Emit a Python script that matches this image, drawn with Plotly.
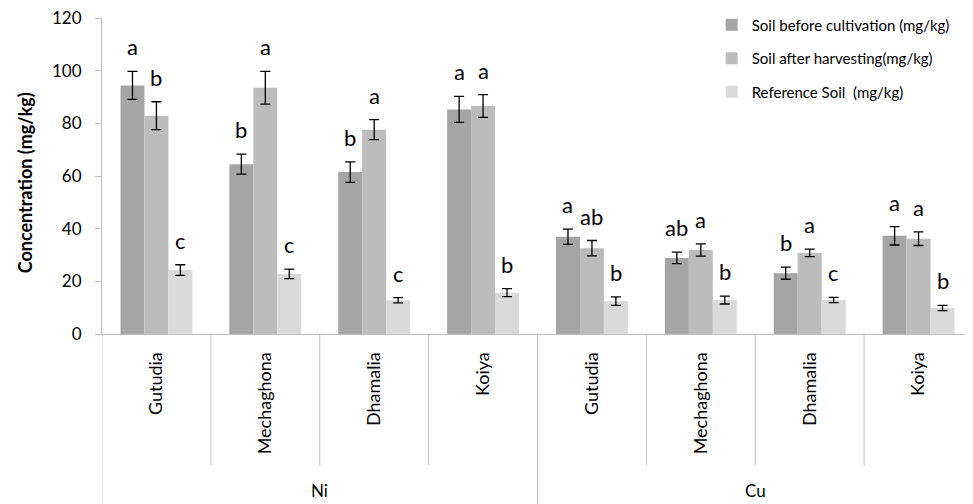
import plotly.graph_objects as go

# ---- data ----
groups = ["Ni", "Cu"]
sites = ["Gutudia", "Mechaghona", "Dhamalia", "Koiya"] * 2
series_names = ["Soil before cultivation (mg/kg)",
                "Soil after harvesting(mg/kg)",
                "Reference Soil  (mg/kg)"]
before = [94.4, 64.5, 61.5, 85.3, 36.9, 28.9, 23.1, 37.3]
before_err = [5.3, 3.8, 3.9, 4.9, 2.9, 2.2, 2.3, 3.5]
after = [82.9, 93.5, 77.6, 86.6, 32.6, 31.9, 30.8, 36.2]
after_err = [5.3, 6.2, 3.8, 4.3, 2.9, 2.3, 1.4, 2.6]
reference = [24.3, 22.8, 12.8, 15.7, 12.5, 12.9, 12.9, 9.9]
reference_err = [2.0, 1.8, 1.0, 1.5, 1.6, 1.5, 1.0, 1.0]
letters_before = ["a", "b", "b", "a", "a", "ab", "b", "a"]
letters_after = ["b", "a", "a", "a", "ab", "a", "a", "a"]
letters_reference = ["c", "c", "c", "b", "b", "b", "c", "b"]
y_ticks = [0, 20, 40, 60, 80, 100, 120]

colors = ["#a5a5a5", "#bcbcbc", "#dadada"]
FONT = "Lato"

x = list(range(len(sites)))
values = [before, after, reference]
errors = [before_err, after_err, reference_err]
letters = [letters_before, letters_after, letters_reference]

fig = go.Figure()
for k in range(3):
    fig.add_trace(go.Bar(
        x=x, y=values[k], name=series_names[k],
        marker=dict(color=colors[k], line=dict(width=0)),
        error_y=dict(type="data", array=errors[k], color="#000000",
                     thickness=1.3, width=5),
        legendgroup=f"g{k}",
    ))

bargap = 0.34
bw = (1 - bargap) / 3
for k in range(3):
    off = (k - 1) * bw
    for i in range(len(x)):
        fig.add_annotation(
            x=x[i] + off, y=values[k][i] + errors[k][i], xref="x", yref="y",
            text=letters[k][i], showarrow=False, yanchor="bottom",
            yshift=9, font=dict(family=FONT, size=22, color="#000000"))

# dividers below the x axis
line_col = "#c0c0c0"
for b in [i - 0.5 for i in range(len(x) + 1)]:
    outer = b in (-0.5, 3.5, 7.5)
    fig.add_shape(type="line", xref="x", yref="paper",
                  x0=b, x1=b, y0=0, y1=(-0.6 if outer else -0.415),
                  line=dict(color=line_col, width=1))

# group labels
for gi, g in enumerate(groups):
    fig.add_annotation(x=gi * 4 + 1.5, y=-0.494, xref="x", yref="paper",
                       text=g, showarrow=False, yanchor="middle",
                       font=dict(family=FONT, size=17, color="#000000"))

# y-axis title
fig.add_annotation(x=-0.088, y=0.478, xref="paper", yref="paper",
                   text="<b>Concentration (mg/kg)</b>", textangle=-90,
                   showarrow=False, xanchor="center", yanchor="middle",
                   font=dict(family=FONT, size=18, color="#000000"))

fig.update_layout(
    width=973, height=504,
    margin=dict(l=94, r=8, t=10, b=178, autoexpand=False),
    paper_bgcolor="white", plot_bgcolor="white",
    barmode="group", bargap=bargap, bargroupgap=0,
    font=dict(family=FONT, size=16, color="#000000"),
    legend=dict(x=0.70, y=1.03, xanchor="left", yanchor="top",
                traceorder="grouped", tracegroupgap=11,
                font=dict(family=FONT, size=15, color="#000000"),
                bgcolor="rgba(0,0,0,0)"),
    xaxis=dict(range=[-0.5, 7.5], tickmode="array", tickvals=x,
               ticktext=sites, tickangle=-90, ticks="", showgrid=False,
               zeroline=False, showline=True, linecolor=line_col,
               linewidth=1, ticklabelstandoff=10,
               tickfont=dict(family=FONT, size=18, color="#000000")),
    yaxis=dict(range=[0, 120], tickmode="array", tickvals=y_ticks,
               ticks="outside", ticklen=6, tickcolor=line_col,
               showline=True, linecolor=line_col, linewidth=1,
               showgrid=False, zeroline=False, ticklabelstandoff=10,
               ticklabeloverflow="allow",
               tickfont=dict(family=FONT, size=17, color="#000000")),
)

fig.write_html("out.html")
